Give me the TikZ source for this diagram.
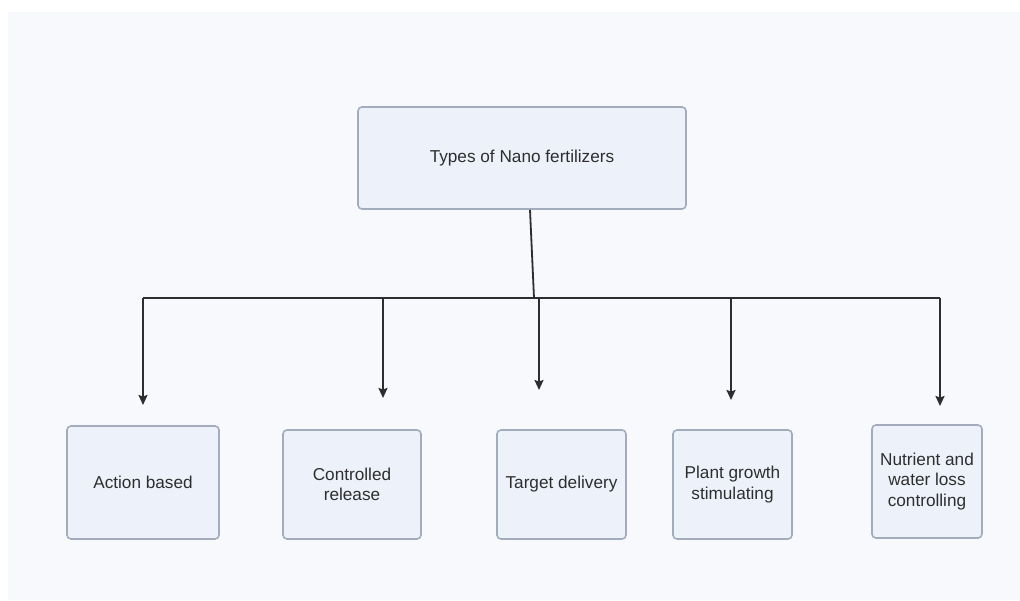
\documentclass[tikz,border=0pt]{standalone}
\usepackage{fontspec}
\setmainfont{Liberation Sans}
\usetikzlibrary{arrows.meta}
\definecolor{boxfill}{HTML}{EDF2FA}
\definecolor{boxline}{HTML}{A2ACBD}
\definecolor{linegray}{HTML}{2E2E2E}
\definecolor{bgpale}{HTML}{F8F9FD}

\begin{document}
\begin{tikzpicture}[x=1pt,y=-1pt,
    box/.style={draw=boxline, fill=boxfill, line width=1.6pt, rounded corners=4pt,
      align=center, inner sep=0pt, text=black!82,
      font=\fontsize{17.2}{20.5}\selectfont},
    link/.style={draw=linegray, line width=1.8pt},
    arr/.style={link, -{Stealth[length=10pt,width=9pt,inset=1.5pt]}}]
    \useasboundingbox (0,0) rectangle (1020,600);
    \fill[white] (0,0) rectangle (1020,600);
    \fill[bgpale] (8,12) rectangle (1020,600);

    % root
    \node[box, minimum width=328pt, minimum height=102pt] (types) at (522,158)
      {Types of Nano fertilizers};

    % branches
    \node[box, minimum width=152pt, minimum height=113pt] (action) at (143,482.5)
      {Action based};
    \node[box, minimum width=138pt, minimum height=109pt] (release) at (352,484.5)
      {Controlled\\release};
    \node[box, minimum width=129pt, minimum height=109pt] (target) at (561.5,484.5)
      {Target delivery};
    \node[box, minimum width=119pt, minimum height=109pt] (growth) at (732.5,484.5)
      {Plant growth\\stimulating};
    \node[box, minimum width=110pt, minimum height=113pt] (loss) at (927,481.5)
      {Nutrient and\\water loss\\controlling};

    % bar
    \coordinate (hub) at (534,298);
    \coordinate (barL) at (143,298);
    \coordinate (barR) at (940,298);
    \draw[link] ([xshift=8pt]types.south) -- (hub);
    \draw[link] (barL) -- (barR);

    \coordinate (tipA) at (143,405);
    \coordinate (tipB) at (383,398);
    \coordinate (tipC) at (539,390);
    \coordinate (tipD) at (731,400);
    \coordinate (tipE) at (940,406);

    \draw[arr] (barL) -- (tipA);
    \draw[arr] (barL -| tipB) -- (tipB);
    \draw[arr] (barL -| tipC) -- (tipC);
    \draw[arr] (barL -| tipD) -- (tipD);
    \draw[arr] (barR) -- (tipE);
  \end{tikzpicture}
\end{document}
